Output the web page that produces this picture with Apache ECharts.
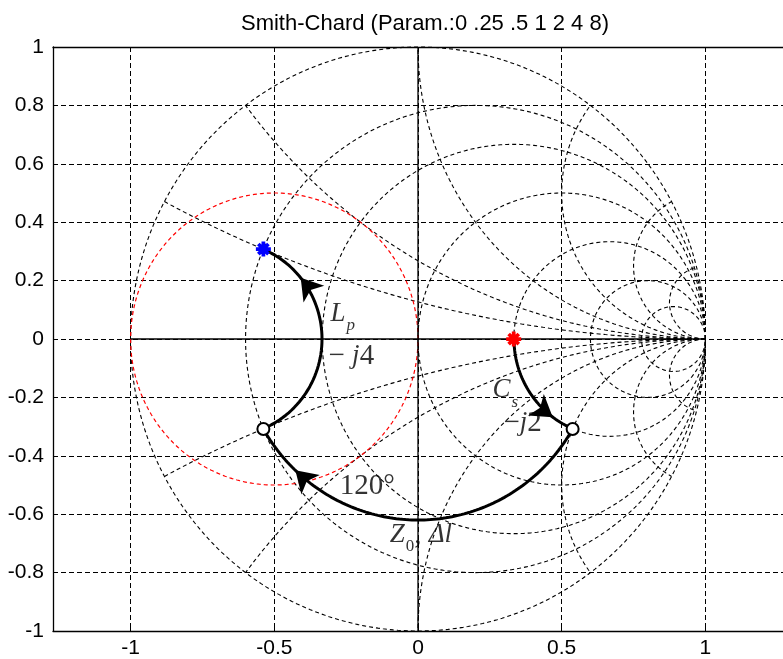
<!DOCTYPE html>
<html>
<head>
<meta charset="utf-8">
<script src="https://cdn.jsdelivr.net/npm/echarts@6/dist/echarts.min.js"></script>
<style>
  html, body { margin: 0; padding: 0; background: #fff; }
  #chart { width: 783px; height: 659px; }
</style>
</head>
<body>
<div id="chart"></div>
<script>
// Smith chart parameters (normalized resistance / reactance)
const params = [0, 0.25, 0.5, 1, 2, 4, 8];
const xTicks = [-1, -0.5, 0, 0.5, 1];

// matching path arcs: [centerX, centerY, radius, startDeg, endDeg]
const csArc = [0.667, 0, 0.333, 180, 247.3];     // series C, -j2
const lineArc = [0, 0, 0.62, -30, -150];         // line Z0, 120 deg
const lpArc = [-0.667, 0, 0.333, -67.3, 67.3];   // parallel L, -j4
const admitCircle = [-0.5, 0, 0.5, 0, 360];      // g = 1 circle (red)
// where the arrow heads sit on each arc (deg)
const arrowAngles = [233.5, -133.5, 39];

const redStar = [[0.333, 0]];
const blueStar = [[-0.538, 0.308]];
const openCircles = [[0.538, -0.308], [-0.538, -0.308]];

// annotation text and anchor (data coords)
const notes = ['{i|L}{s|p}', '{n|− }{i|j}{n|4}', '{i|C}{s|s}', '{n|−}{i|j}{n|2}', '{n|120°}', '{i|Z}{sn|0}{n|, }{i|Δl}'];
const noteX = [-0.262, -0.232, 0.304, 0.364, -0.176, 0.01];
const noteY = [0.082, -0.062, -0.180, -0.291, -0.507, -0.675];

function arcPoints(arc, n) {
  const [cx, cy, r, a0, a1] = arc;
  const pts = [];
  for (let i = 0; i <= n; i++) {
    const a = (a0 + (a1 - a0) * i / n) * Math.PI / 180;
    pts.push([cx + r * Math.cos(a), cy + r * Math.sin(a)]);
  }
  return pts;
}

// resistance circles and reactance arcs
const gridArcs = [];
params.forEach(p => {
  gridArcs.push([p / (1 + p), 0, 1 / (1 + p), 0, 360]);
  if (p > 0) {
    let e = Math.atan2((p * p - 1) / (p * (p * p + 1)), -2 / (p * p + 1)) * 180 / Math.PI;
    if (e > -90) e -= 360;
    gridArcs.push([1, 1 / p, 1 / p, -90, e]);
    gridArcs.push([1, -1 / p, 1 / p, 90, -e]);
  }
});

const dashLine = { color: '#000', width: 1.1, type: [4, 3] };
const series = [];
gridArcs.forEach(a => {
  series.push({
    type: 'line', data: arcPoints(a, 360), symbol: 'none', silent: true, clip: false,
    lineStyle: dashLine, z: 2
  });
});
series.push({
  type: 'line', data: arcPoints(admitCircle, 360), symbol: 'none', silent: true,
  lineStyle: { color: '#ff0000', width: 1.2, type: [4, 3] }, z: 3
});
[[[-1, 0], [1, 0]], [[0, -1], [0, 1]]].forEach(seg => {
  series.push({
    type: 'line', data: seg, symbol: 'none', silent: true, clip: false,
    lineStyle: { color: '#000', width: 1.3 }, z: 3
  });
});

const pathArcs = [csArc, lineArc, lpArc];
pathArcs.forEach(a => {
  series.push({
    type: 'line', data: arcPoints(a, 120), symbol: 'none', silent: true,
    lineStyle: { color: '#000', width: 3 }, z: 5
  });
});

// arrow heads along the path
const arrowData = pathArcs.map((a, i) => {
  const t = arrowAngles[i] * Math.PI / 180;
  const s = Math.sign(a[4] - a[3]);
  const dir = Math.atan2(s * Math.cos(t), -s * Math.sin(t)) * 180 / Math.PI;
  return {
    value: [a[0] + a[2] * Math.cos(t), a[1] + a[2] * Math.sin(t)],
    symbolRotate: dir - 90
  };
});
series.push({
  type: 'scatter', data: arrowData, symbol: 'arrow', symbolSize: [20, 21],
  itemStyle: { color: '#000', opacity: 1 }, silent: true, z: 6
});

const starPath = 'path://M6,0h4v16h-4z M0,6h16v4h-16z M1.2,4L4,1.2L14.8,12L12,14.8z M12,1.2L14.8,4L4,14.8L1.2,12z';
series.push({
  type: 'scatter', data: redStar, symbol: starPath, symbolSize: 15,
  itemStyle: { color: '#ff0000', opacity: 1 }, silent: true, z: 7
});
series.push({
  type: 'scatter', data: blueStar, symbol: starPath, symbolSize: 15,
  itemStyle: { color: '#0000ff', opacity: 1 }, silent: true, z: 7
});
series.push({
  type: 'scatter', data: openCircles, symbol: 'emptyCircle', symbolSize: 12,
  itemStyle: { color: '#000', borderColor: '#000', borderWidth: 2, opacity: 1 }, silent: true, z: 7
});

const serif = 'Liberation Serif';
series.push({
  type: 'scatter', symbolSize: 0, silent: true, z: 8,
  data: notes.map((t, i) => ({ name: t, value: [noteX[i], noteY[i]] })),
  label: {
    show: true, position: 'inside', formatter: '{b}', color: '#000',
    rich: {
      i: { fontFamily: serif, fontStyle: 'italic', fontSize: 27, lineHeight: 30, verticalAlign: 'top', color: '#000' },
      n: { fontFamily: serif, fontSize: 29, lineHeight: 30, verticalAlign: 'top', color: '#000' },
      s: { fontFamily: serif, fontStyle: 'italic', fontSize: 17, lineHeight: 16, padding: [17, 0, 0, 1], verticalAlign: 'top', color: '#000' },
      sn: { fontFamily: serif, fontSize: 17, lineHeight: 16, padding: [17, 0, 0, 1], verticalAlign: 'top', color: '#000' }
    }
  }
});

const labelFont = { color: '#000', fontSize: 21, fontFamily: 'Liberation Sans' };
const option = {
  animation: false,
  backgroundColor: '#fff',
  title: {
    text: 'Smith-Chard (Param.:0 .25 .5 1 2 4 8)',
    left: 420, top: 8, textAlign: 'center',
    textStyle: { color: '#000', fontSize: 22, fontWeight: 'normal', fontFamily: 'Liberation Sans' }
  },
  grid: { left: 53, top: 47, right: -10, bottom: 28 },
  xAxis: [{
    type: 'value', min: -1.27, max: 1.27,
    axisLine: { show: true, onZero: false, lineStyle: { color: '#000', width: 1.3 } },
    axisTick: { show: true, inside: true, length: 5, customValues: xTicks, lineStyle: { color: '#000' } },
    axisLabel: { ...labelFont, margin: 7, customValues: xTicks },
    splitLine: { show: true, lineStyle: { color: '#000', width: 1, type: [5, 3] } }
  }, {
    type: 'value', min: -1.27, max: 1.27, position: 'top',
    axisLine: { show: true, onZero: false, lineStyle: { color: '#000', width: 1.3 } },
    axisTick: { show: true, inside: true, length: 5, customValues: xTicks, lineStyle: { color: '#000' } },
    axisLabel: { show: false },
    splitLine: { show: false }
  }],
  yAxis: {
    type: 'value', min: -1, max: 1, interval: 0.2,
    axisLine: { show: true, onZero: false, lineStyle: { color: '#000', width: 1.3 } },
    axisTick: { show: true, inside: true, length: 5, lineStyle: { color: '#000' } },
    axisLabel: { ...labelFont, margin: 9 },
    splitLine: { show: true, lineStyle: { color: '#000', width: 1, type: [5, 3] } }
  },
  series: series
};

const chart = echarts.init(document.getElementById('chart'));
chart.setOption(option);
</script>
</body>
</html>
